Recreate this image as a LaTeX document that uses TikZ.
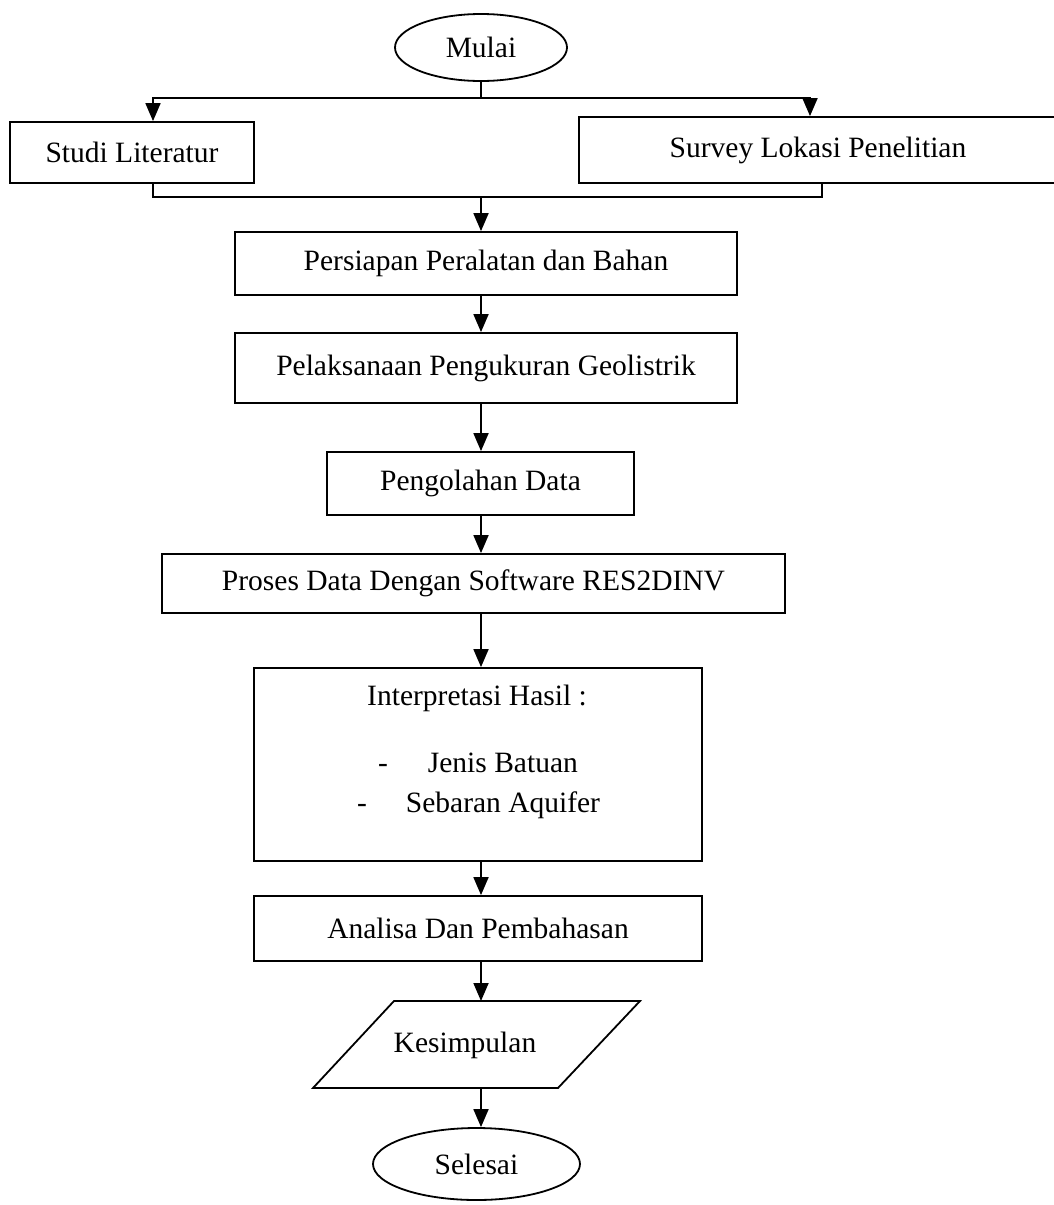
\documentclass[tikz,border=0pt]{standalone}
\usepackage{fontspec}
\setmainfont{Liberation Serif}
\usetikzlibrary{arrows.meta,shapes.geometric}
\begin{document}
\begin{tikzpicture}[x=1pt,y=-1pt, line width=1.8pt,
  font=\fontsize{29.5}{35}\selectfont,
  box/.style={draw, rectangle, inner sep=0pt},
  term/.style={draw, ellipse, inner sep=0pt},
  arr/.style={-{Triangle[length=18pt,width=15pt]}},
  lbl/.style={inner sep=0pt}]
\useasboundingbox (0,0) rectangle (1054,1205);

% nodes
\node[term, minimum width=172pt, minimum height=67pt] (mulai) at (481,47.5) {Mulai};
\node[box, minimum width=244pt, minimum height=61pt] (studi) at (132,152.5) {Studi Literatur};
\node[box, minimum width=478pt, minimum height=66pt] (survey) at (818,150) {Survey Lokasi Penelitian};
\node[box, minimum width=502pt, minimum height=63pt] (persiapan) at (486,263.5) {Persiapan Peralatan dan Bahan};
\node[box, minimum width=502pt, minimum height=70pt] (pelaksanaan) at (486,368) {Pelaksanaan Pengukuran Geolistrik};
\node[box, minimum width=307pt, minimum height=63pt] (olah) at (480.5,483.5) {Pengolahan Data};
\node[box, minimum width=623pt, minimum height=59pt] (proses) at (473.5,583.5) {Proses Data Dengan Software RES2DINV};
\node[box, minimum width=448pt, minimum height=193pt] (interp) at (478,764.5) {};
\node[lbl, anchor=base] (interpT) at (477,705) {Interpretasi Hasil :};
\node[lbl, anchor=base] (dashA) at (383,772) {-};
\node[lbl, anchor=base west] (jenis) at (427,772) {Jenis Batuan};
\node[lbl, anchor=base] (dashB) at (362,812) {-};
\node[lbl, anchor=base west] (sebaran) at (405,812) {Sebaran Aquifer};
\node[box, minimum width=448pt, minimum height=65pt] (analisa) at (478,928.5) {Analisa Dan Pembahasan};
\draw (394,1001) -- (640,1001) -- (558,1088) -- (313,1088) -- cycle;
\node[lbl] (kes) at (465,1045) {Kesimpulan};
\node[term, minimum width=207pt, minimum height=72pt] (selesai) at (476.5,1164) {Selesai};

% helper coordinates
\coordinate (spine) at (481,0);
\coordinate (sp) at (481,98);
\coordinate (sL) at (153,98);
\coordinate (sR) at (810,98);
\coordinate (mL) at (153,197);
\coordinate (mR) at (822,197);
\coordinate (mC) at (481,197);
\coordinate (kesT) at (481,1001);
\coordinate (kesB) at (481,1088);

% connectors
\draw (mulai.south) -- (sp);
\draw[arr] (sp) -- (sL) -- (sL |- studi.north);
\draw[arr] (sp) -- (sR) -- (sR |- survey.north);
\draw (sL |- studi.south) -- (mL) -- (mR) -- (mR |- survey.south);
\draw[arr] (mC) -- (persiapan.north -| spine);
\draw[arr] (persiapan.south -| spine) -- (pelaksanaan.north -| spine);
\draw[arr] (pelaksanaan.south -| spine) -- (olah.north -| spine);
\draw[arr] (olah.south -| spine) -- (proses.north -| spine);
\draw[arr] (proses.south -| spine) -- (interp.north -| spine);
\draw[arr] (interp.south -| spine) -- (analisa.north -| spine);
\draw[arr] (analisa.south -| spine) -- (kesT);
\draw[arr] (kesB) -- (selesai.north -| spine);
\end{tikzpicture}
\end{document}
